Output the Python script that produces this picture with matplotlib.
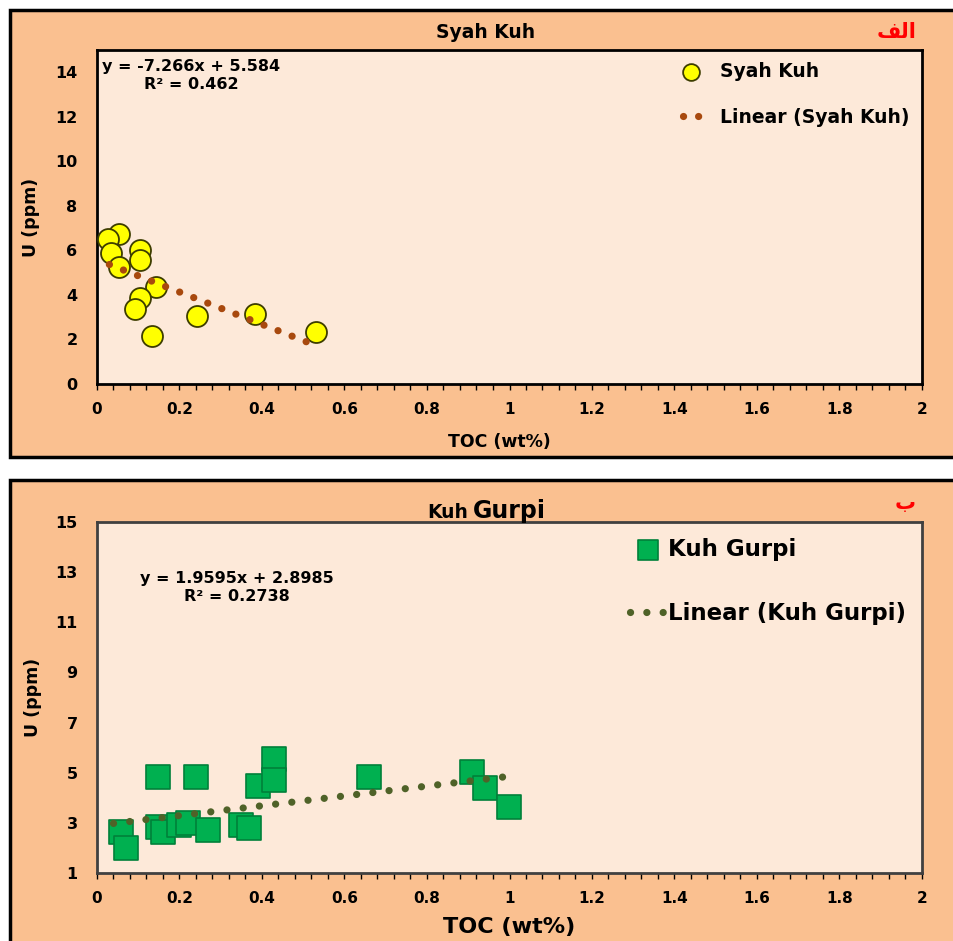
import matplotlib.pyplot as plt
from matplotlib.patches import Rectangle
from matplotlib.ticker import MultipleLocator, FuncFormatter

plt.rcParams['font.family'] = ['DejaVu Sans']
plt.rcParams['font.weight'] = 'bold'
plt.rcParams['axes.labelweight'] = 'bold'

# Syah Kuh samples
syah_toc = [0.054, 0.027, 0.033, 0.054, 0.104, 0.104, 0.143, 0.104, 0.092, 0.133, 0.243, 0.383, 0.531]
syah_u = [6.73, 6.49, 5.89, 5.26, 6.00, 5.56, 4.36, 3.87, 3.36, 2.15, 3.06, 3.14, 2.35]
syah_fit = (-7.266, 5.584)
syah_fit_range = (0.03, 0.512)

# Kuh Gurpi samples
gurpi_toc = [0.058, 0.070, 0.149, 0.149, 0.159, 0.200, 0.221, 0.239, 0.270, 0.349,
             0.369, 0.390, 0.430, 0.430, 0.660, 0.908, 0.941, 1.000]
gurpi_u = [2.62, 1.98, 4.84, 2.85, 2.65, 2.90, 2.98, 4.82, 2.72, 2.91,
           2.78, 4.47, 5.55, 4.71, 4.82, 5.04, 4.38, 3.62]
gurpi_fit = (1.9595, 2.8985)
gurpi_fit_range = (0.04, 0.985)

# Arabic panel letters, in visual order with joined presentation forms
label_a = '\ufed2\ufedf\u0627'   # الف
label_b = '\u0628'               # ب

W, H = 954, 941
OUTER = '#FAC090'
INNER = '#FDE9D9'

fig = plt.figure(figsize=(W / 100, H / 100), dpi=100)


def fx(px):
    return px / W


def fy(py):
    return 1 - py / H


# peach outer boxes, behind the axes
fig.patches.append(Rectangle((fx(10), fy(457)), 1.05, fy(10) - fy(457), transform=fig.transFigure,
                             facecolor=OUTER, edgecolor='black', lw=2.5, zorder=-5))
fig.patches.append(Rectangle((fx(10), -0.05), 1.05, fy(480) + 0.05, transform=fig.transFigure,
                             facecolor=OUTER, edgecolor='black', lw=2.5, zorder=-5))


def style_axes(ax, ymin, ymax, yticks, spine_color):
    ax.set_zorder(2)
    ax.set_facecolor(INNER)
    ax.set_xlim(0, 2)
    ax.set_ylim(ymin, ymax)
    ax.xaxis.set_major_locator(MultipleLocator(0.2))
    ax.xaxis.set_minor_locator(MultipleLocator(0.04))
    ax.xaxis.set_major_formatter(FuncFormatter(lambda v, p: f'{v:g}'))
    ax.set_yticks(yticks)
    ax.tick_params(axis='x', which='both', direction='out', length=4, width=1, pad=9, labelsize=11)
    ax.tick_params(axis='y', length=0, pad=14, labelsize=11.5)
    for s in ax.spines.values():
        s.set_linewidth(2)
        s.set_color(spine_color)


# ---- top panel: Syah Kuh ----
ax1 = fig.add_axes([fx(97), fy(384), fx(922) - fx(97), fy(50) - fy(384)])
style_axes(ax1, 0, 15, range(0, 15, 2), 'black')
ax1.scatter(syah_toc, syah_u, s=228, c='#FFFF00', edgecolors='#3d3d00', linewidths=1.3,
            zorder=3, label='Syah Kuh')
x1 = list(syah_fit_range)
ax1.plot(x1, [syah_fit[0] * v + syah_fit[1] for v in x1], color='#A8490E', lw=5.2,
         linestyle=(0, (0.01, 2.08)), dash_capstyle='round', zorder=4, label='Linear (Syah Kuh)')
ax1.text(0.114, 0.925, 'y = -7.266x + 5.584\nR² = 0.462', transform=ax1.transAxes,
         ha='center', va='center', multialignment='center', fontsize=11.5, linespacing=1.25)
ax1.legend(loc='upper left', bbox_to_anchor=(0.710, 0.965), frameon=False, borderpad=0,
           borderaxespad=0, prop={'weight': 'bold', 'size': 13.5}, labelspacing=1.45,
           handlelength=0.9, handletextpad=1.07, markerscale=0.8)
ax1.set_ylabel('U (ppm)', fontsize=12.5)
ax1.yaxis.set_label_coords(-0.069, 0.5)
ax1.set_xlabel('TOC (wt%)', fontsize=12.5)
ax1.xaxis.set_label_coords(0.488, -0.147)

fig.text(fx(486), fy(33), 'Syah Kuh', ha='center', va='center', fontsize=13.5)
fig.text(fx(897), fy(32), label_a, ha='center', va='center', fontsize=15, color='#FF0000')

# ---- bottom panel: Kuh Gurpi ----
ax2 = fig.add_axes([fx(97), fy(873), fx(922) - fx(97), fy(522) - fy(873)])
style_axes(ax2, 1, 15, range(1, 16, 2), '#404040')
ax2.scatter(gurpi_toc, gurpi_u, s=306, marker='s', c='#00B050', edgecolors='#00803A',
            linewidths=1.2, zorder=3, label='Kuh Gurpi')
x2 = list(gurpi_fit_range)
ax2.plot(x2, [gurpi_fit[0] * v + gurpi_fit[1] for v in x2], color='#4F6228', lw=5.2,
         linestyle=(0, (0.01, 2.25)), dash_capstyle='round', zorder=4, label='Linear (Kuh Gurpi)')
ax2.text(0.170, 0.812, 'y = 1.9595x + 2.8985\nR² = 0.2738', transform=ax2.transAxes,
         ha='center', va='center', multialignment='center', fontsize=11.5, linespacing=1.25)
ax2.legend(loc='upper left', bbox_to_anchor=(0.646, 0.955), frameon=False, borderpad=0,
           borderaxespad=0, prop={'weight': 'bold', 'size': 16.5}, labelspacing=1.8,
           handlelength=1.57, handletextpad=0.1, markerscale=0.8)
ax2.set_ylabel('U (ppm)', fontsize=12.5)
ax2.yaxis.set_label_coords(-0.067, 0.5)
ax2.set_xlabel('TOC (wt%)', fontsize=16)
ax2.xaxis.set_label_coords(0.5, -0.125)

fig.text(fx(468), fy(518), 'Kuh', ha='right', va='baseline', fontsize=13.5)
fig.text(fx(473), fy(518), 'Gurpi', ha='left', va='baseline', fontsize=17)
fig.text(fx(905), fy(503), label_b, ha='center', va='center', fontsize=15, color='#FF0000')

fig.savefig('out.png', dpi=100)
